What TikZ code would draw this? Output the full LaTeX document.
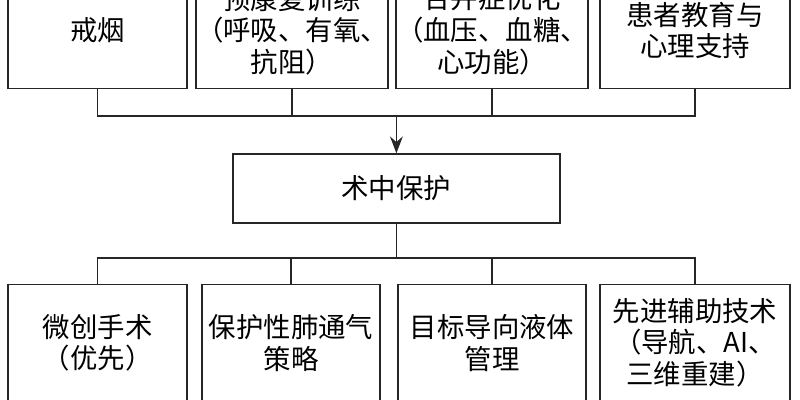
\documentclass[tikz,border=0pt]{standalone}
\usepackage{fontspec}
\newfontfamily\cjk{Noto Sans CJK SC}
\usetikzlibrary{arrows.meta,calc}

\begin{document}
\begin{tikzpicture}[
    box/.style={draw=black!85, line width=0.9pt, align=center, inner sep=0pt, minimum height=2.9cm, font=\cjk\fontsize{19.5}{22.5}\selectfont},
    midbox/.style={box, minimum width=8.175cm, minimum height=1.725cm},
    link/.style={draw=black!85, line width=0.9pt},
    arrow/.style={link, -{Stealth[length=4.2mm, width=3.2mm, inset=1.4mm]}}
]
\useasboundingbox (0,0) rectangle (20,10);

% preoperative measures (top row, cut by the frame)
\node[box, minimum width=4.475cm] (pre1) at (2.44,9.24) {戒烟};
\node[box, minimum width=4.5cm] (pre2) at (7.3,9.24) {预康复训练\\（呼吸、有氧、\\抗阻）};
\node[box, minimum width=4.7cm] (pre3) at (12.3,9.24) {合并症优化\\（血压、血糖、\\心功能）};
\node[box, minimum width=4.75cm] (pre4) at (17.375,9.24) {患者教育与\\心理支持};

\node[midbox] (intra) at (9.91,5.29) {术中保护};

% intraoperative measures (bottom row)
\node[box, minimum width=4.475cm] (op1) at (2.44,1.43) {微创手术\\（优先）};
\node[box, minimum width=4.45cm] (op2) at (7.275,1.43) {保护性肺通气\\策略};
\node[box, minimum width=4.7cm] (op3) at (12.3,1.43) {目标导向液体\\管理};
\node[box, minimum width=4.75cm] (op4) at (17.375,1.43) {先进辅助技术\\（导航、AI、\\三维重建）};

\coordinate (busA) at (0,7.1);
\coordinate (busB) at (0,3.55);

\draw[link] (pre1.south) |- (pre4.south |- busA) -- (pre4.south);
\draw[link] (pre2.south) -- (pre2.south |- busA);
\draw[link] (pre3.south) -- (pre3.south |- busA);
\draw[arrow] (intra.north |- busA) -- (intra.north);

\draw[link] (intra.south) -- (intra.south |- busB);
\draw[link] (op1.north) |- (op4.north |- busB) -- (op4.north);
\draw[link] (op2.north) -- (op2.north |- busB);
\draw[link] (op3.north) -- (op3.north |- busB);
\end{tikzpicture}
\end{document}
